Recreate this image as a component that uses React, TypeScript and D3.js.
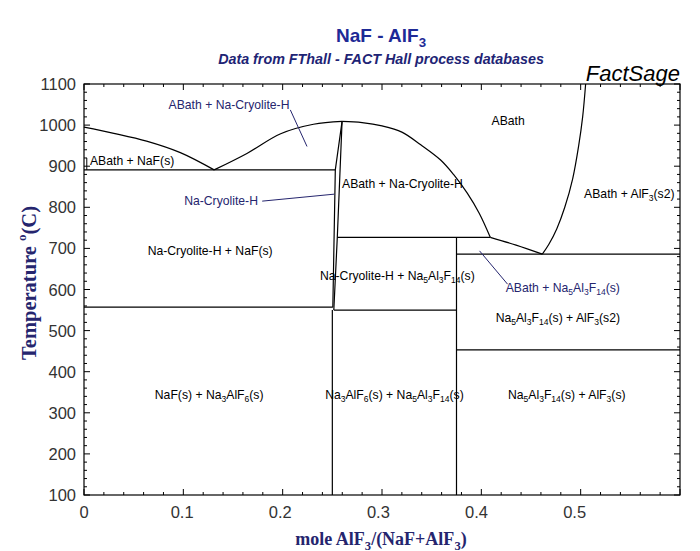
import React from 'react';
import * as d3 from 'd3';

// liquidus / phase boundaries: [mole fraction AlF3, T (C)]
const naFLiquidus: [number, number][] = [[0, 995], [0.03, 980], [0.063, 961], [0.097, 933], [0.131, 891]];
const cryoLiquidusLeft: [number, number][] = [[0.131, 891], [0.164, 931], [0.198, 979], [0.231, 1002], [0.2598, 1009]];
const cryoLiquidusRight: [number, number][] = [
  [0.2598, 1009], [0.28, 1006], [0.30, 998], [0.32, 983], [0.339, 952], [0.359, 915],
  [0.372, 880], [0.386, 834], [0.398, 785], [0.409, 727],
];
const chioliteLiquidus: [number, number][] = [[0.409, 727], [0.435, 708], [0.4614, 686]];
const alf3Liquidus: [number, number][] = [
  [0.4614, 686], [0.468, 710], [0.476, 748], [0.484, 800], [0.492, 870], [0.498, 950], [0.502, 1020], [0.505, 1100],
];
const cryoSolvusLeft: [number, number][] = [[0.2598, 1009], [0.253, 891], [0.2505, 557]];
const cryoSolvusRight: [number, number][] = [[0.2598, 1009], [0.255, 727], [0.2515, 550]];

// invariant lines
const isotherms = [
  { x0: 0, x1: 0.253, t: 891 },
  { x0: 0.255, x1: 0.409, t: 727 },
  { x0: 0.375, x1: 0.6, t: 686 },
  { x0: 0, x1: 0.2505, t: 557 },
  { x0: 0.2515, x1: 0.375, t: 550 },
  { x0: 0.375, x1: 0.6, t: 453 },
];
const isopleths = [
  { x: 0.25, t0: 100, t1: 550 },
  { x: 0.375, t0: 100, t1: 727 },
];

const navy = '#25256e';

const regionLabels = [
  { text: 'ABath + Na-Cryolite-H', x: 0.146, t: 1039, color: navy, anchor: 'middle' },
  { text: 'ABath', x: 0.427, t: 1000, color: '#000', anchor: 'middle' },
  { text: 'ABath + NaF(s)', x: 0.006, t: 903, color: '#000', anchor: 'start' },
  { text: 'Na-Cryolite-H', x: 0.138, t: 806, color: navy, anchor: 'middle' },
  { text: 'ABath + Na-Cryolite-H', x: 0.3206, t: 847, color: '#000', anchor: 'middle' },
  { text: 'ABath + AlF_3(s2)', x: 0.549, t: 823, color: '#000', anchor: 'middle' },
  { text: 'Na-Cryolite-H + NaF(s)', x: 0.127, t: 684, color: '#000', anchor: 'middle' },
  { text: 'Na-Cryolite-H + Na_5Al_3F_14(s)', x: 0.3155, t: 623, color: '#000', anchor: 'middle' },
  { text: 'ABath + Na_5Al_3F_14(s)', x: 0.482, t: 594, color: navy, anchor: 'middle' },
  { text: 'Na_5Al_3F_14(s) + AlF_3(s2)', x: 0.477, t: 521, color: '#000', anchor: 'middle' },
  { text: 'NaF(s) + Na_3AlF_6(s)', x: 0.126, t: 334, color: '#000', anchor: 'middle' },
  { text: 'Na_3AlF_6(s) + Na_5Al_3F_14(s)', x: 0.3125, t: 334, color: '#000', anchor: 'middle' },
  { text: 'Na_5Al_3F_14(s) + AlF_3(s)', x: 0.486, t: 334, color: '#000', anchor: 'middle' },
];

const leaders = [
  { x0: 0.2077, t0: 1037, x1: 0.2245, t1: 948, color: navy },
  { x0: 0.1794, t0: 815, x1: 0.252, t1: 832, color: navy },
  { x0: 0.3982, t0: 694, x1: 0.4264, t1: 613, color: navy },
  { x0: 0.0028, t0: 920, x1: 0.0028, t1: 891, color: '#000' },
];

const xTicks = [0, 0.1, 0.2, 0.3, 0.4, 0.5];
const yTicks = [100, 200, 300, 400, 500, 600, 700, 800, 900, 1000, 1100];

// render "Na_5Al_3F_14(s)" with subscripts
function Chem({ s, size }: { s: string; size: number }) {
  const parts = s.split(/_(\d+)/);
  return (
    <>
      {parts.map((p, i) =>
        i % 2 === 1 ? (
          <tspan key={i} fontSize={size * 0.7} dy={size * 0.25}>{p}</tspan>
        ) : (
          <tspan key={i} dy={i > 0 ? -size * 0.25 : 0}>{p}</tspan>
        )
      )}
    </>
  );
}

export default function App() {
  const width = 700;
  const height = 551;
  const m = { left: 84, right: 20, top: 84, bottom: 56 };

  const x = d3.scaleLinear().domain([0, 0.6]).range([m.left, width - m.right]);
  const y = d3.scaleLinear().domain([100, 1100]).range([height - m.bottom, m.top]);

  const curve = d3.line<[number, number]>().x(d => x(d[0])).y(d => y(d[1])).curve(d3.curveCatmullRom);
  const straight = d3.line<[number, number]>().x(d => x(d[0])).y(d => y(d[1]));

  const xMinor = d3.range(0, 0.6001, 0.02);
  const yMinor = d3.range(100, 1101, 20);

  const x0 = x(0), x1 = x(0.6), y0 = y(100), y1 = y(1100);
  const labelSize = 12.2;

  return (
    <svg width={width} height={height} style={{ position: 'absolute', left: 0, top: 0, background: '#fff' }}
      fontFamily="Arial, 'Liberation Sans', sans-serif">
      <rect width={width} height={height} fill="#fff" />

      {/* titles */}
      <text x={381} y={42} textAnchor="middle" fontSize={19} fontWeight="bold" fill="#1e2a96">
        <Chem s="NaF - AlF_3" size={19} />
      </text>
      <text x={381} y={64} textAnchor="middle" fontSize={14.3} fontWeight="bold" fontStyle="italic" fill="#1e2475">
        Data from FThall - FACT Hall process databases
      </text>
      <text x={680} y={81} textAnchor="end" fontSize={22} fontStyle="italic" fill="#000">FactSage</text>

      {/* frame */}
      <rect x={x0} y={y1} width={x1 - x0} height={y0 - y1} fill="none" stroke="#000" strokeWidth={1.2} />

      {/* ticks */}
      {xMinor.map((v, i) => {
        const major = Math.abs(v * 10 - Math.round(v * 10)) < 1e-6;
        const len = major ? 6 : 3;
        return (
          <g key={'xt' + i} stroke="#000" strokeWidth={1}>
            <line x1={x(v)} x2={x(v)} y1={y0} y2={y0 - len} />
            <line x1={x(v)} x2={x(v)} y1={y1} y2={y1 + len} />
          </g>
        );
      })}
      {yMinor.map((v, i) => {
        const len = v % 100 === 0 ? 6 : 3;
        return (
          <g key={'yt' + i} stroke="#000" strokeWidth={1}>
            <line x1={x0} x2={x0 + len} y1={y(v)} y2={y(v)} />
            <line x1={x1} x2={x1 - len} y1={y(v)} y2={y(v)} />
          </g>
        );
      })}
      {xTicks.map(v => (
        <text key={'xl' + v} x={x(v) - v * 12} y={y0 + 23} textAnchor="middle" fontSize={16.5} fill="#333">
          {v === 0 ? '0' : d3.format('.1f')(v)}
        </text>
      ))}
      {yTicks.map(v => (
        <text key={'yl' + v} x={x0 - 8} y={y(v) + 6} textAnchor="end" fontSize={16.5} fill="#333">{v}</text>
      ))}

      {/* axis titles */}
      <text x={381} y={545} textAnchor="middle" fontSize={18} fontWeight="bold" fill={navy}
        fontFamily="'Liberation Serif', 'Times New Roman', serif">
        <Chem s="mole AlF_3/(NaF+AlF_3)" size={18} />
      </text>
      <text transform="translate(36,283) rotate(-90)" textAnchor="middle" fontSize={20.5} fontWeight="bold" fill={navy}
        fontFamily="'Liberation Serif', 'Times New Roman', serif">
        Temperature <tspan fontSize={13} dy={-10}>o</tspan><tspan dy={10}>(C)</tspan>
      </text>

      {/* phase boundaries */}
      <g fill="none" stroke="#000" strokeWidth={1.2}>
        <path d={curve(naFLiquidus) || ''} />
        <path d={curve(cryoLiquidusLeft) || ''} />
        <path d={curve(cryoLiquidusRight) || ''} />
        <path d={curve(chioliteLiquidus) || ''} />
        <path d={curve(alf3Liquidus) || ''} />
        <path d={straight(cryoSolvusLeft) || ''} />
        <path d={straight(cryoSolvusRight) || ''} />
        {isotherms.map((l, i) => (
          <line key={'it' + i} x1={x(l.x0)} x2={x(l.x1)} y1={y(l.t)} y2={y(l.t)} />
        ))}
        {isopleths.map((l, i) => (
          <line key={'ip' + i} x1={x(l.x)} x2={x(l.x)} y1={y(l.t0)} y2={y(l.t1)} />
        ))}
      </g>

      {/* leader lines */}
      <g strokeWidth={1}>
        {leaders.map((l, i) => (
          <line key={'ld' + i} x1={x(l.x0)} y1={y(l.t0)} x2={x(l.x1)} y2={y(l.t1)} stroke={l.color} />
        ))}
      </g>

      {/* region labels */}
      {regionLabels.map((l, i) => (
        <text key={'rl' + i} x={x(l.x)} y={y(l.t)} textAnchor={l.anchor} fontSize={labelSize} fill={l.color}>
          <Chem s={l.text} size={labelSize} />
        </text>
      ))}
    </svg>
  );
}
